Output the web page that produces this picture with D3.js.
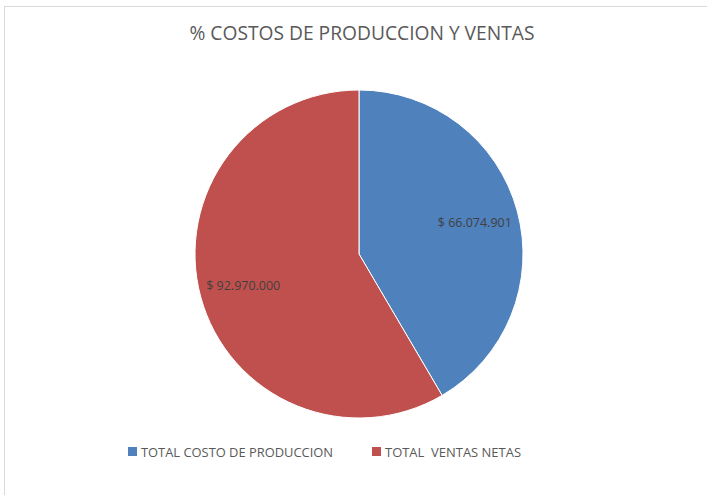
<!DOCTYPE html>
<html>
<head>
<meta charset="utf-8">
<script src="https://cdn.jsdelivr.net/npm/d3@7"></script>
<style>
  body { margin: 0; background: #fff; }
  text { font-family: "Open Sans", "Liberation Sans", sans-serif; }
</style>
</head>
<body>
<div id="chart"></div>
<script>
const W = 707, H = 495;

const categories = ["TOTAL COSTO DE PRODUCCION", "TOTAL  VENTAS NETAS"];
const values = [66074901, 92970000];
const labels = ["$ 66.074.901", "$ 92.970.000"];
const colors = ["#4f81bd", "#c0504d"];

const cx = 359, cy = 254, r = 164;

const svg = d3.select("#chart").append("svg")
  .attr("width", W).attr("height", H);

// chart frame
svg.append("rect")
  .attr("x", 4.5).attr("y", 6.5)
  .attr("width", W).attr("height", H)
  .attr("fill", "#fff")
  .attr("stroke", "#d9d9d9");

svg.append("text")
  .attr("x", 362).attr("y", 39.5)
  .attr("text-anchor", "middle")
  .attr("fill", "#595959")
  .style("font-size", "19.5px")
  .attr("textLength", 345).attr("lengthAdjust", "spacingAndGlyphs")
  .text("% COSTOS DE PRODUCCION Y VENTAS");

const pie = d3.pie().sort(null).value(d => d);
const arcs = pie(values);
const arc = d3.arc().innerRadius(0).outerRadius(r);
const labelArc = d3.arc().innerRadius(120).outerRadius(120);

const g = svg.append("g").attr("transform", `translate(${cx},${cy})`);

g.selectAll("path")
  .data(arcs)
  .enter()
  .append("path")
  .attr("d", arc)
  .attr("fill", (d, i) => colors[i])
  .attr("stroke", "#fff")
  .attr("stroke-width", 1);

g.selectAll(".lbl")
  .data(arcs)
  .enter()
  .append("text")
  .attr("class", "lbl")
  .attr("transform", d => `translate(${labelArc.centroid(d)})`)
  .attr("text-anchor", "middle")
  .attr("dy", "0.35em")
  .attr("fill", "#404040")
  .style("font-size", "12.5px")
  .attr("textLength", 74).attr("lengthAdjust", "spacingAndGlyphs")
  .text((d, i) => labels[i]);

// legend
const legX = [128, 372];
const legLen = [192, 136];
const leg = svg.selectAll(".leg")
  .data(categories)
  .enter()
  .append("g")
  .attr("class", "leg")
  .attr("transform", (d, i) => `translate(${legX[i]},447)`);

leg.append("rect")
  .attr("width", 9).attr("height", 9)
  .attr("fill", (d, i) => colors[i]);

leg.append("text")
  .attr("x", 13).attr("y", 9.5)
  .attr("fill", "#595959")
  .style("font-size", "12.5px")
  .attr("textLength", (d, i) => legLen[i]).attr("lengthAdjust", "spacingAndGlyphs")
  .style("white-space", "pre")
  .text(d => d);
</script>
</body>
</html>
